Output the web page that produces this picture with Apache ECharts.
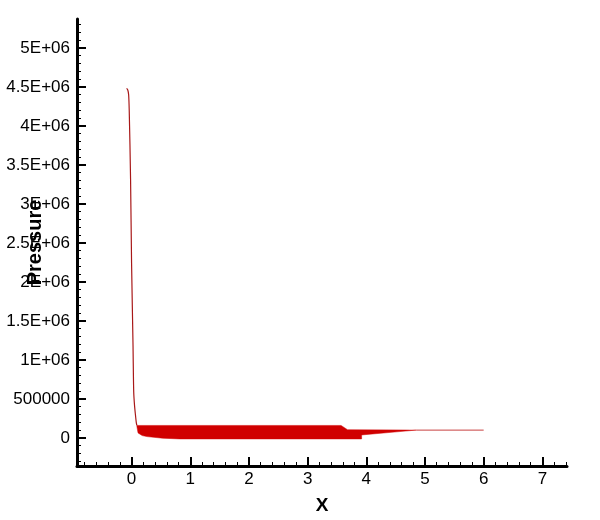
<!DOCTYPE html>
<html>
<head>
<meta charset="utf-8">
<script src="https://cdn.jsdelivr.net/npm/echarts@6/dist/echarts.min.js"></script>
<style>
  html, body { margin: 0; padding: 0; background: #fff; }
  #chart { width: 600px; height: 520px; }
</style>
</head>
<body>
<div id="chart"></div>
<script>
// tick values
const xMajor = [0, 1, 2, 3, 4, 5, 6, 7];
const yMajor = [0, 500000, 1000000, 1500000, 2000000, 2500000, 3000000, 3500000, 4000000, 4500000, 5000000];

// the steep thin curve coming down from the peak
const curveX = [-0.085, -0.065, -0.05, -0.04, -0.017, 0.0, 0.025, 0.036, 0.05, 0.068, 0.08, 0.09];
const curveY = [4480000, 4460000, 4400000, 4200000, 3310000, 2240000, 1170000, 600000, 420000, 280000, 200000, 160000];

// the filled oscillation band: upper and lower envelopes
const bandTopX = [0.09, 3.57, 3.68, 4.85];
const bandTopY = [160000, 160000, 105000, 100000];
const bandBotX = [0.09, 0.11, 0.18, 0.26, 0.53, 0.82, 3.92, 3.92, 4.85];
const bandBotY = [150000, 64000, 30000, 17000, -4000, -13000, -13000, 38000, 100000];

// thin tail after the band
const tailX = [4.85, 6.0];
const tailY = [100000, 100000];

const font = 'Liberation Sans, Arial, sans-serif';

// minor ticks between the majors
const xMinor = [];
for (let i = -4; i <= 37; i++) { if (i % 5 !== 0) xMinor.push(+(i * 0.2).toFixed(1)); }
const yMinor = [];
for (let i = -3; i <= 53; i++) { if (i % 5 !== 0) yMinor.push(i * 100000); }

function fmtY(v) {
  if (v < 1000000) return String(v);
  const e = Math.floor(Math.log10(v));
  const m = +(v / Math.pow(10, e)).toFixed(2);
  return m + 'E+' + String(e).padStart(2, '0');
}

const chart = echarts.init(document.getElementById('chart'));

const xBase = { type: 'value', min: -0.93, max: 7.42, position: 'bottom', splitLine: { show: false } };
const yBase = { type: 'value', min: -360000, max: 5370000, position: 'left', splitLine: { show: false } };

const option = {
  animation: false,
  grid: { left: 77, right: 33, top: 19, bottom: 54, containLabel: false, outerBoundsMode: 'none' },
  xAxis: [
    Object.assign({}, xBase, {
      name: 'X',
      nameLocation: 'middle',
      nameGap: 30,
      nameMoveOverlap: false,
      nameTextStyle: { fontFamily: font, fontSize: 19, fontWeight: 'bold', color: '#000' },
      axisLine: { onZero: false, lineStyle: { color: '#000', width: 3 } },
      axisTick: { inside: true, length: 9, lineStyle: { color: '#000', width: 2 }, customValues: xMajor },
      axisLabel: { customValues: xMajor, margin: 5, fontFamily: font, fontSize: 17, color: '#000' }
    }),
    Object.assign({}, xBase, {
      axisLine: { show: false, onZero: false },
      axisTick: { inside: true, length: 4, lineStyle: { color: '#000', width: 1 }, customValues: xMinor },
      axisLabel: { show: false }
    })
  ],
  yAxis: [
    Object.assign({}, yBase, {
      name: 'Pressure',
      nameLocation: 'middle',
      nameGap: 32,
      nameMoveOverlap: false,
      nameTextStyle: { fontFamily: font, fontSize: 20, fontWeight: 'bold', color: '#000' },
      axisLine: { onZero: false, lineStyle: { color: '#000', width: 3 } },
      axisTick: { inside: true, length: 9, lineStyle: { color: '#000', width: 2 }, customValues: yMajor },
      axisLabel: { customValues: yMajor, margin: 7, fontFamily: font, fontSize: 17, color: '#000', formatter: fmtY }
    }),
    Object.assign({}, yBase, {
      axisLine: { show: false, onZero: false },
      axisTick: { inside: true, length: 4, lineStyle: { color: '#000', width: 1 }, customValues: yMinor },
      axisLabel: { show: false }
    })
  ],
  series: [
    {
      type: 'custom',
      data: [0],
      renderItem: function (params, api) {
        const pts = [];
        bandTopX.forEach((x, i) => pts.push(api.coord([x, bandTopY[i]])));
        for (let i = bandBotX.length - 1; i >= 0; i--) pts.push(api.coord([bandBotX[i], bandBotY[i]]));
        return { type: 'polygon', shape: { points: pts }, style: { fill: '#d00000', stroke: '#d00000', lineWidth: 0.5 } };
      }
    },
    {
      type: 'line',
      data: curveX.map((x, i) => [x, curveY[i]]),
      showSymbol: false,
      smooth: 0.3,
      lineStyle: { color: '#a81818', width: 1.2 }
    },
    {
      type: 'line',
      data: tailX.map((x, i) => [x, tailY[i]]),
      showSymbol: false,
      lineStyle: { color: '#c84040', width: 1 }
    }
  ]
};

chart.setOption(option);
</script>
</body>
</html>
